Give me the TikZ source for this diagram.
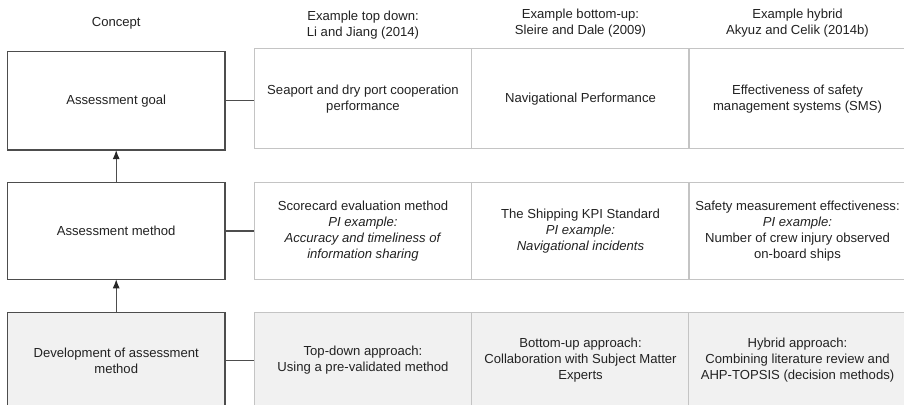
\documentclass[tikz,border=0pt]{standalone}
\usepackage{fontspec}
\setmainfont{Liberation Sans}
\usetikzlibrary{arrows.meta}
\definecolor{boxline}{HTML}{4D4D4D}
\definecolor{cellline}{HTML}{C4C4C4}
\definecolor{cellfill}{HTML}{F1F1F1}
\definecolor{txt}{HTML}{222222}
\tikzset{
  every node/.style={font=\fontsize{13.1}{16}\selectfont, text=txt, align=center, inner sep=0pt, outer sep=0pt},
  concept/.style={draw=boxline, line width=1.4pt, minimum width=217.7pt},
  cell/.style={draw=cellline, line width=1pt, minimum width=217.5pt},
  shaded/.style={fill=cellfill},
  link/.style={draw=boxline, line width=1.1pt},
  uparrow/.style={draw=boxline, line width=1.1pt, -{Latex[length=9pt,width=7pt,color=black!85]}},
  head/.style={}
}
\begin{document}
\begin{tikzpicture}[x=1pt, y=-1pt]
\useasboundingbox (0,0) rectangle (904,404);
\clip (0,0) rectangle (904,404);
\fill[white] (0,0) rectangle (904,404);

% column headings
\node[head] (hc) at (116.2,23) {Concept};
\node[head] (h1) at (363,25) {Example top down:\\Li and Jiang (2014)};
\node[head] (h2) at (580.5,23) {Example bottom-up:\\Sleire and Dale (2009)};
\node[head] (h3) at (797.5,23.5) {Example hybrid\\Akyuz and Celik (2014b)};

% concept boxes
\node[concept, minimum height=98.3pt] (c1) at (116.2,100.9) {Assessment goal};
\node[concept, minimum height=96.5pt] (c2) at (116.2,231) {Assessment method};
\node[concept, shaded, minimum height=96pt] (c3) at (116.2,360.5) {Development of assessment\\method};

% example cells, row 1
\node[cell, minimum height=99.7pt] (r1a) at (363,98.8) {Seaport and dry port cooperation\\performance};
\node[cell, minimum height=99.7pt] (r1b) at (580.5,98.8) {Navigational Performance};
\node[cell, minimum height=99.7pt] (r1c) at (797.5,98.8) {Effectiveness of safety\\management systems (SMS)};

% example cells, row 2
\node[cell, minimum height=97pt] (r2a) at (363,231.2) {Scorecard evaluation method\\\textit{PI example:}\\\textit{Accuracy and timeliness of}\\\textit{information sharing}};
\node[cell, minimum height=97pt] (r2b) at (580.5,231.2) {The Shipping KPI Standard\\\textit{PI example:}\\\textit{Navigational incidents}};
\node[cell, minimum height=97pt] (r2c) at (797.5,231.2) {Safety measurement effectiveness:\\\textit{PI example:}\\Number of crew injury observed\\on-board ships};

% example cells, row 3
\node[cell, shaded, minimum height=96pt] (r3a) at (363,360.5) {Top-down approach:\\Using a pre-validated method};
\node[cell, shaded, minimum height=96pt] (r3b) at (580.5,360.5) {Bottom-up approach:\\Collaboration with Subject Matter\\Experts};
\node[cell, shaded, minimum height=96pt] (r3c) at (797.5,360.5) {Hybrid approach:\\Combining literature review and\\AHP-TOPSIS (decision methods)};

% links between concepts and examples
\draw[link] (c1.east) -- (c1.east -| r1a.west);
\draw[link] (c2.east) -- (c2.east -| r2a.west);
\draw[link] (c3.east) -- (c3.east -| r3a.west);

% upward flow between concepts
\draw[uparrow] (c2.north) -- (c1.south);
\draw[uparrow] (c3.north) -- (c2.south);
\end{tikzpicture}
\end{document}
